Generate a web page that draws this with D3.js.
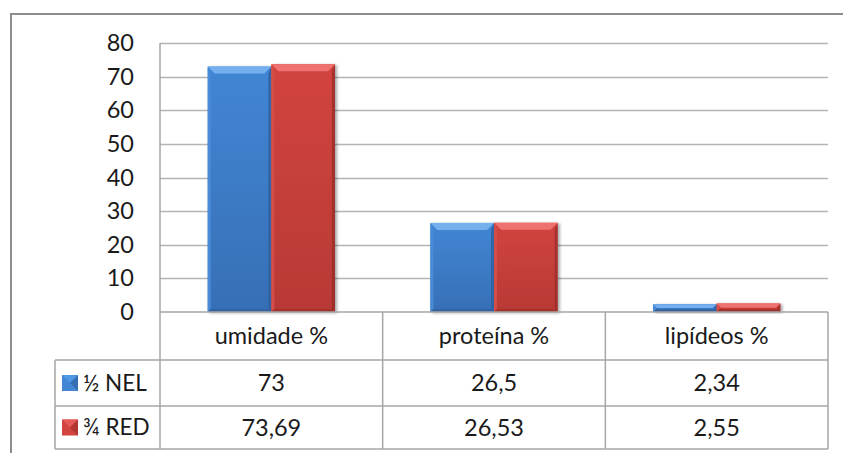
<!DOCTYPE html>
<html>
<head>
<meta charset="utf-8">
<script src="https://cdn.jsdelivr.net/npm/d3@7"></script>
<style>
  html, body { margin: 0; padding: 0; background: #fff; }
  svg { display: block; }
  text { font-family: Lato, "Open Sans", sans-serif; fill: #1a1a1a; }
</style>
</head>
<body>
<script>
// Composition table: categories, series and their values
const categories = ["umidade %", "proteína %", "lipídeos %"];
const seriesNames = ["½ NEL", "¾ RED"];
const nelValues = [73, 26.5, 2.34];
const redValues = [73.69, 26.53, 2.55];
const nelLabels = ["73", "26,5", "2,34"];
const redLabels = ["73,69", "26,53", "2,55"];
const yTicks = [0, 10, 20, 30, 40, 50, 60, 70, 80];

const W = 843, H = 453;
const FS = 23.5;
const plot = { left: 160, right: 828, top: 43, bottom: 312 };
const table = { left: 55, headerBottom: 360, row1Bottom: 406, bottom: 449 };

const palette = [
  { id: "nel", top: "#4286d4", bottom: "#366fb6", light: "#74b0ee", side: "#4a8bd6", dark: "#2e5f9c", legendTop: "#4f96e3" },
  { id: "red", top: "#d2443f", bottom: "#b83935", light: "#ef7270", side: "#d54d49", dark: "#9a2d2a", legendTop: "#e35a57" }
];

const svg = d3.select("body").append("svg").attr("width", W).attr("height", H);

const defs = svg.append("defs");
const shadow = defs.append("filter").attr("id", "barShadow")
  .attr("x", "-20%").attr("y", "-20%").attr("width", "140%").attr("height", "140%");
shadow.append("feDropShadow").attr("dx", 2).attr("dy", 1).attr("stdDeviation", 1.5)
  .attr("flood-color", "#000").attr("flood-opacity", 0.35);
palette.forEach(c => {
  const lg = defs.append("linearGradient").attr("id", "face-" + c.id)
    .attr("x1", 0).attr("y1", 0).attr("x2", 0).attr("y2", 1);
  lg.append("stop").attr("offset", "0%").attr("stop-color", c.top);
  lg.append("stop").attr("offset", "100%").attr("stop-color", c.bottom);
});

// Chart frame
svg.append("path")
  .attr("d", `M11,${H} L11,14 L${W},14`)
  .attr("fill", "none").attr("stroke", "#8c8c8c").attr("stroke-width", 2);

const y = d3.scaleLinear().domain([0, 80]).range([plot.bottom, plot.top]);
const x0 = d3.scaleBand().domain(categories).range([plot.left, plot.right]);
// gap width 150%: each bar is band / 3.5
const barW = x0.bandwidth() / 3.5;
const x1 = d3.scaleBand().domain(seriesNames)
  .range([barW * 0.75, barW * 0.75 + 2 * barW]).padding(0);

// Gridlines
svg.append("g")
  .selectAll("line").data(yTicks.filter(d => d > 0)).join("line")
  .attr("x1", plot.left).attr("x2", plot.right)
  .attr("y1", d => Math.round(y(d)) + 0.5).attr("y2", d => Math.round(y(d)) + 0.5)
  .attr("stroke", "#b4b4b4").attr("stroke-width", 1.5);

// Value axis labels
const yAxis = d3.axisLeft(y).tickValues(yTicks).tickSize(0).tickPadding(0);
const yg = svg.append("g").attr("transform", `translate(134,0)`).call(yAxis);
yg.select(".domain").remove();
yg.selectAll("text").attr("font-size", FS).attr("font-family", "Lato, sans-serif").attr("fill", "#1a1a1a");

// Bars with bevelled faces
const rows = [nelValues, redValues];
const barsG = svg.append("g");
categories.forEach((cat, ci) => {
  seriesNames.forEach((s, si) => {
    const v = rows[si][ci];
    const bx = x0(cat) + x1(s);
    const by = y(v);
    const bh = y(0) - by;
    const c = palette[si];
    const g = barsG.append("g").attr("filter", "url(#barShadow)");
    g.append("rect").attr("x", bx).attr("y", by).attr("width", barW).attr("height", bh).attr("fill", `url(#face-${c.id})`);
    const b = Math.min(7, bh / 2);
    const s2 = Math.min(3, barW / 4);
    // left side
    g.append("path").attr("d", `M${bx},${by} L${bx + s2},${by + b} L${bx + s2},${by + bh - s2} L${bx},${by + bh} Z`).attr("fill", c.side);
    // right side
    g.append("path").attr("d", `M${bx + barW},${by} L${bx + barW - s2},${by + b} L${bx + barW - s2},${by + bh - s2} L${bx + barW},${by + bh} Z`).attr("fill", c.dark).attr("opacity", 0.8);
    // bottom edge
    g.append("path").attr("d", `M${bx},${by + bh} L${bx + s2},${by + bh - s2} L${bx + barW - s2},${by + bh - s2} L${bx + barW},${by + bh} Z`).attr("fill", c.dark).attr("opacity", 0.7);
    // top bevel
    g.append("path").attr("d", `M${bx},${by} L${bx + barW},${by} L${bx + barW - b},${by + b} L${bx + b},${by + b} Z`).attr("fill", c.light);
  });
});

// Data table grid
const gridColor = "#a6a6a6";
const tg = svg.append("g").attr("stroke", gridColor).attr("stroke-width", 1.5).attr("fill", "none");
const hLines = [
  { y: plot.bottom, x1: plot.left, x2: plot.right },
  { y: table.headerBottom, x1: table.left, x2: plot.right },
  { y: table.row1Bottom, x1: table.left, x2: plot.right },
  { y: table.bottom, x1: table.left, x2: plot.right }
];
tg.selectAll("line.h").data(hLines).join("line").attr("class", "h")
  .attr("x1", d => d.x1).attr("x2", d => d.x2).attr("y1", d => d.y).attr("y2", d => d.y);
const colEdges = categories.map(c => x0(c)).concat([plot.right]);
tg.selectAll("line.v").data(colEdges).join("line").attr("class", "v")
  .attr("x1", d => d).attr("x2", d => d)
  .attr("y1", (d, i) => i === 0 ? plot.top : plot.bottom).attr("y2", table.bottom);
tg.append("line").attr("x1", table.left).attr("x2", table.left)
  .attr("y1", table.headerBottom).attr("y2", table.bottom);

// Category header text
svg.append("g").selectAll("text").data(categories).join("text")
  .attr("x", d => x0(d) + x0.bandwidth() / 2)
  .attr("y", (plot.bottom + table.headerBottom) / 2)
  .attr("dy", "0.35em").attr("text-anchor", "middle").attr("font-size", FS)
  .text(d => d);

// Value rows
const labelRows = [nelLabels, redLabels];
const rowCenters = [(table.headerBottom + table.row1Bottom) / 2, (table.row1Bottom + table.bottom) / 2];
labelRows.forEach((labels, ri) => {
  svg.append("g").selectAll("text").data(labels).join("text")
    .attr("x", (d, i) => x0(categories[i]) + x0.bandwidth() / 2)
    .attr("y", rowCenters[ri])
    .attr("dy", "0.35em").attr("text-anchor", "middle").attr("font-size", FS)
    .text(d => d);
});

// Legend keys inside the table
seriesNames.forEach((name, si) => {
  const cy = rowCenters[si];
  const c = palette[si];
  const kx = 62, ks = 16, ky = cy - ks / 2;
  const k = svg.append("g");
  k.append("rect").attr("x", kx).attr("y", ky).attr("width", ks).attr("height", ks).attr("fill", c.top);
  k.append("path").attr("d", `M${kx},${ky} L${kx + ks},${ky} L${kx + ks / 2},${ky + ks / 2} Z`).attr("fill", c.legendTop);
  k.append("path").attr("d", `M${kx + ks},${ky} L${kx + ks},${ky + ks} L${kx + ks / 2},${ky + ks / 2} Z`).attr("fill", c.dark).attr("opacity", 0.6);
  svg.append("text").attr("x", 83).attr("y", cy).attr("dy", "0.35em")
    .attr("font-size", FS - 1).text(name);
});
</script>
</body>
</html>
